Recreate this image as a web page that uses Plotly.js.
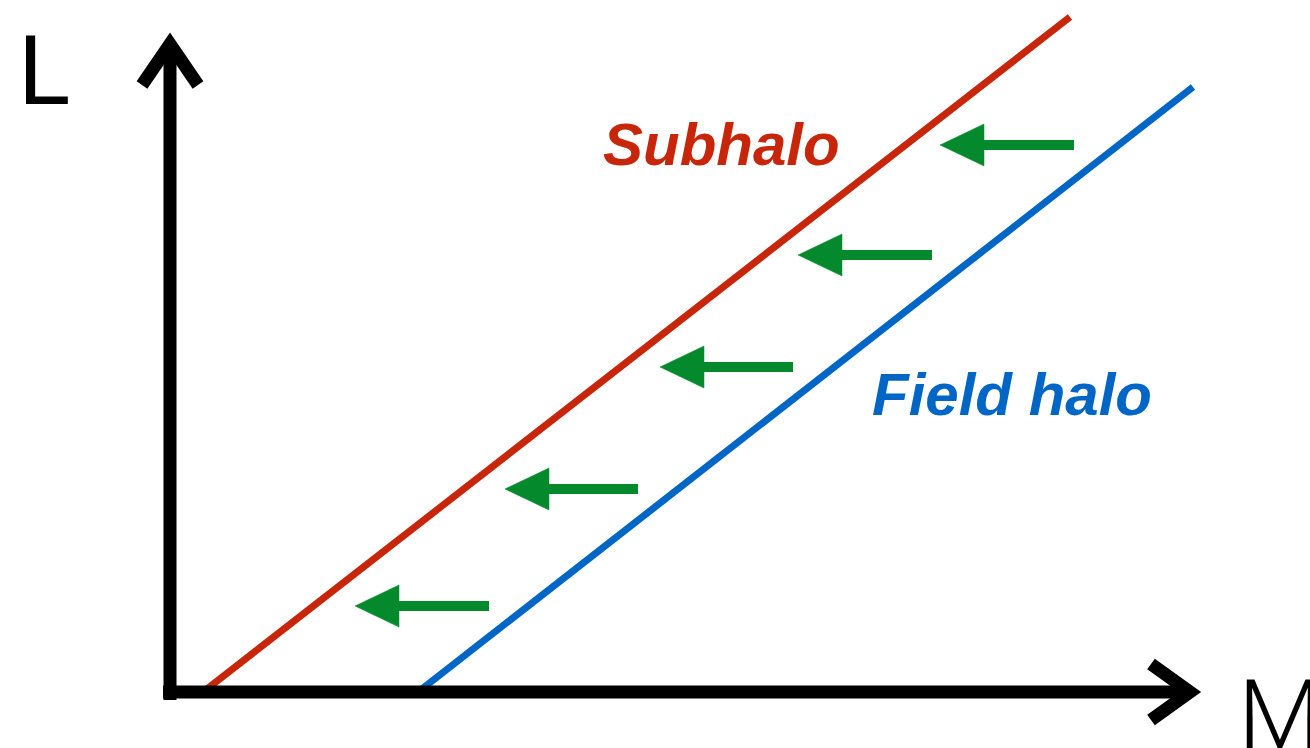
<!DOCTYPE html>
<html>
<head>
<meta charset="utf-8">
<script src="https://cdn.plot.ly/plotly-3.0.1.min.js"></script>
<style>html,body{margin:0;padding:0;background:#fff;overflow:hidden}</style>
</head>
<body>
<div id="chart" style="width:1310px;height:748px"></div>
<script>
// Schematic values (M = mass, L = luminosity, arbitrary units)
const subhaloM = [33, 900];
const subhaloL = [0, 675];
const fieldM = [248, 1023];
const fieldL = [0, 605];
// shift arrows: tip M, tail M, L level
const shiftTipM = [770, 628, 490, 335, 185];
const shiftTailM = [904, 762, 623, 468, 319];
const shiftL = [547, 437, 325, 203, 86];
// axis arrows
const yAxisM = [0, 0];
const yAxisL = [-8, 645];
const yHeadM = [-28, 0, 28];
const yHeadL = [607, 648, 607];
const xAxisM = [-7, 1020];
const xAxisL = [0, 0];
const xHeadM = [981, 1020, 981];
const xHeadL = [28, 0, -28];
const labels = ["Subhalo", "Field halo", "L", "M"];

const red = "#c8260b", blue = "#0066c6", green = "#05892d";
const traces = [];
traces.push({x: subhaloM, y: subhaloL, mode: "lines", line: {color: red, width: 7}});
traces.push({x: fieldM, y: fieldL, mode: "lines", line: {color: blue, width: 7}});
for (let i = 0; i < shiftL.length; i++) {
  const tip = shiftTipM[i], tail = shiftTailM[i], l = shiftL[i];
  traces.push({x: [tip + 42, tail], y: [l, l], mode: "lines", line: {color: green, width: 10}});
  traces.push({x: [tip, tip + 44, tip + 44, tip], y: [l, l + 21, l - 21, l], mode: "lines",
    fill: "toself", fillcolor: green, line: {color: green, width: 0.5}});
}
traces.push({x: yAxisM, y: yAxisL, mode: "lines", line: {color: "#000", width: 13}});
traces.push({x: yHeadM, y: yHeadL, mode: "lines", line: {color: "#000", width: 13}});
traces.push({x: xAxisM, y: xAxisL, mode: "lines", line: {color: "#000", width: 13}});
traces.push({x: xHeadM, y: xHeadL, mode: "lines", line: {color: "#000", width: 13}});

const boldIt = {family: "Liberation Sans, Arial, sans-serif", size: 60, weight: 700, style: "italic"};
const thinL = {family: "Roboto, Lato, sans-serif", size: 97, weight: 400, color: "#000"};
const thinM = {family: "Roboto, Lato, sans-serif", size: 97, weight: 300, color: "#000"};
const layout = {
  width: 1310, height: 748,
  margin: {l: 0, r: 0, t: 0, b: 0},
  paper_bgcolor: "#fff", plot_bgcolor: "#fff",
  showlegend: false,
  xaxis: {range: [-170, 1140], visible: false, fixedrange: true},
  yaxis: {range: [-56, 692], visible: false, fixedrange: true},
  annotations: [
    {x: 551, y: 548, text: labels[0], showarrow: false, xanchor: "center", yanchor: "middle",
     font: Object.assign({}, boldIt, {color: red})},
    {x: 842, y: 298, text: labels[1], showarrow: false, xanchor: "center", yanchor: "middle",
     font: Object.assign({}, boldIt, {color: blue})},
    {x: -154, y: 621, text: labels[2], showarrow: false, xanchor: "left", yanchor: "middle", font: thinL},
    {x: 1066, y: -23, text: labels[3], showarrow: false, xanchor: "left", yanchor: "middle", font: thinM}
  ]
};
Plotly.newPlot("chart", traces, layout, {staticPlot: true, displayModeBar: false});
</script>
</body>
</html>
